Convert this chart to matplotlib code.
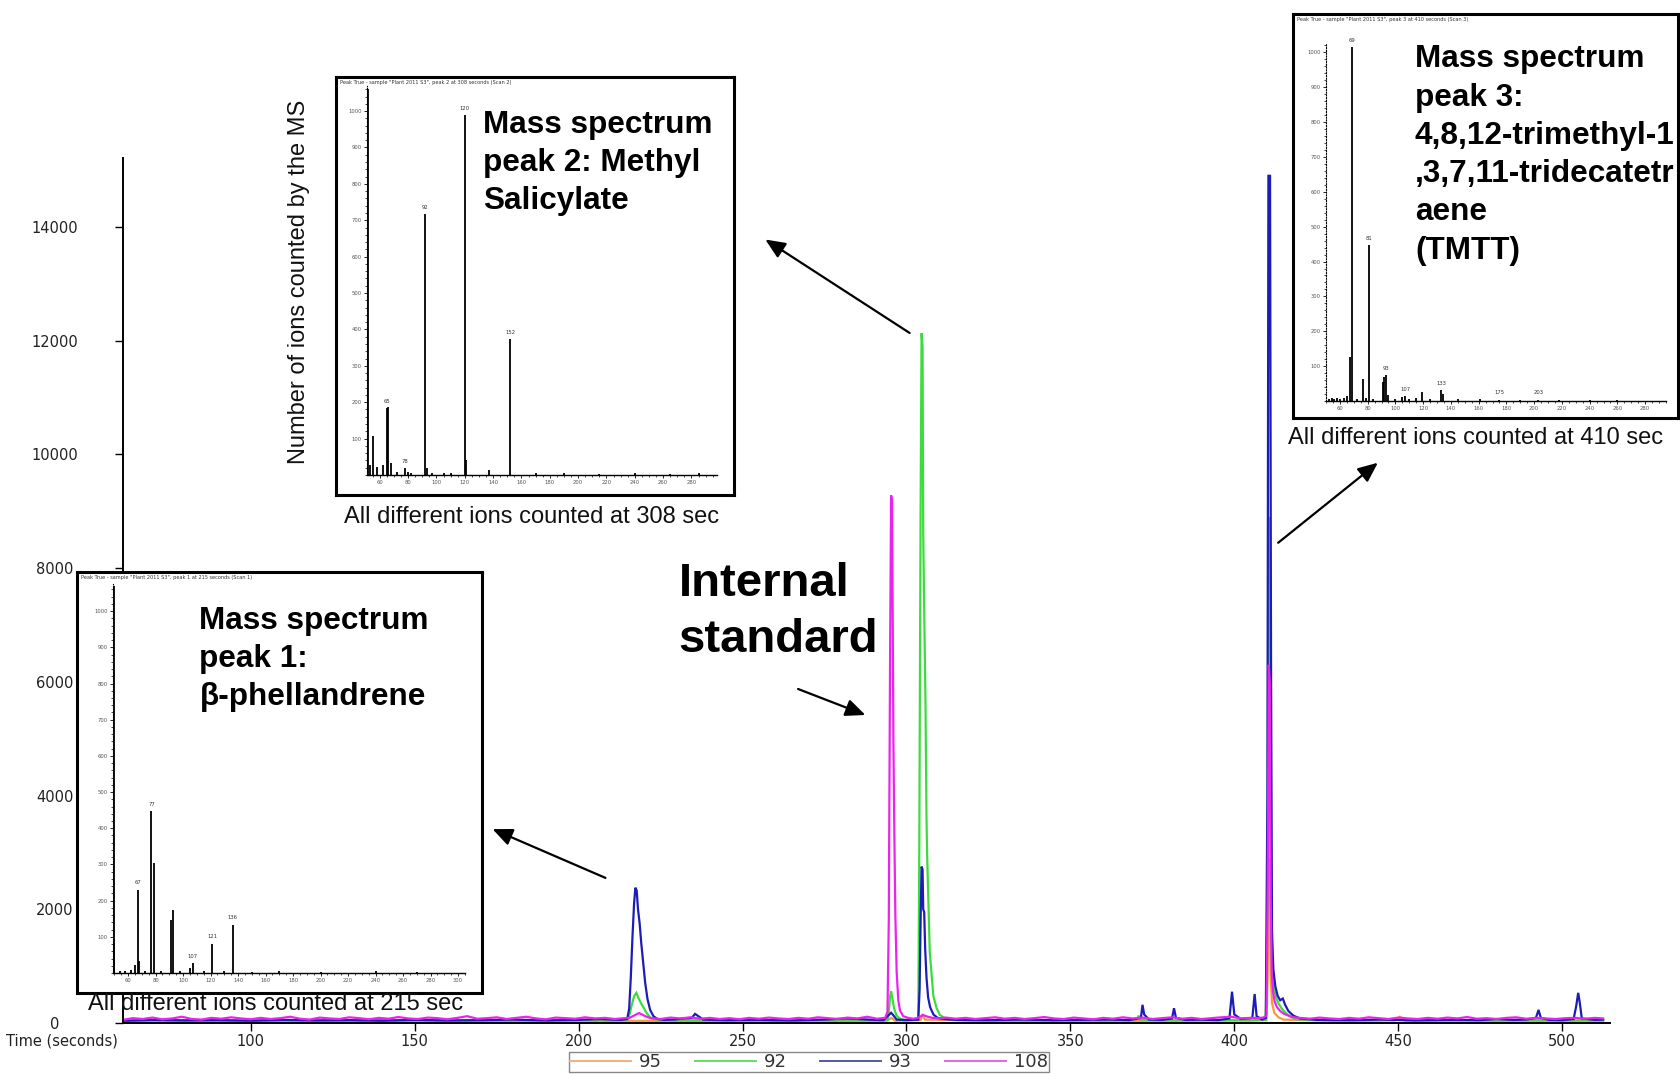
import matplotlib
matplotlib.use("Agg")
import matplotlib.pyplot as plt
from matplotlib.patches import FancyArrowPatch
from matplotlib.lines import Line2D
from matplotlib.ticker import MultipleLocator

W, H, DPI = 1681, 1074, 100

# ---------------- chromatogram: (retention time in s, ion counts) ----------------
ion_95 = [(61.5, 35), (100, 40), (150, 35), (200, 40), (250, 35), (294, 40), (295.4, 90),
          (296.5, 40), (304.3, 50), (304.9, 160), (305.6, 60), (330, 35), (380, 40), (409.8, 50),
          (410.2, 900), (410.5, 2900), (410.8, 2600), (411.1, 800), (411.5, 350), (412.2, 180),
          (413.5, 100), (415, 60), (430, 40), (449, 45), (450.5, 110), (452, 45), (480, 40),
          (512.5, 40)]

ion_92 = [(61.5, 40), (80, 50), (100, 40), (120, 45), (140, 50), (160, 40), (180, 45), (200, 50),
          (210, 45), (214.8, 55),
          (215.5, 150), (216.2, 320), (216.9, 470), (217.6, 530), (218.3, 430), (219.1, 340),
          (219.9, 260), (220.8, 170), (221.8, 100), (223, 65),
          (230, 50), (240, 45), (250, 50), (260, 40), (270, 50), (280, 45), (290, 50), (294.3, 60),
          (294.7, 250), (295.0, 480), (295.3, 560), (295.7, 430), (296.2, 260), (296.9, 140),
          (297.8, 80), (299, 60), (302, 55), (303.6, 60),
          (303.9, 3000), (304.3, 9000), (304.6, 12130), (304.9, 11900), (305.1, 8630), (305.3, 7700),
          (305.8, 5600), (306.1, 3620), (306.3, 2950), (307.1, 1250), (308.2, 470), (309.2, 260),
          (310.2, 140), (312.2, 70), (314, 55),
          (320, 45), (330, 50), (340, 45), (350, 50), (360, 45), (368, 55), (370.4, 70), (370.8, 130),
          (371.3, 60), (376, 50), (385, 45), (395, 50), (405, 45), (409.6, 60),
          (410.1, 2000), (410.4, 8900), (410.8, 8700), (411.1, 2600), (411.5, 950), (412, 620),
          (412.7, 450), (413.5, 340), (414.5, 250), (416, 160), (417.5, 100), (419, 60),
          (430, 50), (440, 45), (450, 55), (460, 45), (470, 50), (480, 45), (490, 50), (500, 45),
          (512.5, 50)]

ion_93 = [(61.5, 40), (70, 55), (80, 45), (90, 50), (100, 40), (110, 55), (120, 45), (130, 50),
          (140, 40), (150, 55), (160, 45), (170, 50), (180, 60), (190, 45), (200, 55), (207, 70),
          (210, 60), (213, 55), (214.8, 70),
          (215.4, 250), (215.9, 800), (216.4, 1500), (216.9, 2100), (217.3, 2380), (217.7, 2330),
          (218.1, 2000), (218.6, 1750), (219.1, 1400), (219.7, 1050), (220.3, 700), (221, 420),
          (221.8, 230), (222.8, 120), (224, 70),
          (226, 55), (229, 60), (232, 80), (234.5, 90), (235.5, 160), (236.5, 120), (238, 60),
          (245, 50), (255, 55), (265, 45), (275, 60), (282, 80), (285, 70), (290, 55), (293, 50),
          (295.3, 180), (295.8, 150), (297, 60), (300, 50), (303.6, 60),
          (304.0, 600), (304.3, 1800), (304.6, 2750), (304.9, 2700), (305.1, 2000), (305.4, 1950),
          (305.7, 1300), (306.1, 800), (306.6, 450), (307.2, 280), (308.2, 150), (309.5, 90),
          (311, 70),
          (315, 55), (325, 50), (335, 60), (345, 50), (355, 55), (362, 60), (368, 50), (371.5, 90),
          (372, 320), (372.5, 150), (374, 60), (378, 55), (381, 80), (381.6, 260), (382.2, 90),
          (385, 55), (390, 60), (395, 50), (398.5, 80), (399.3, 550), (400, 150), (402, 70),
          (405.5, 90), (406.2, 510), (406.8, 120), (408.5, 60), (409.6, 90),
          (410.1, 4000), (410.4, 14900), (410.9, 14900), (411.2, 6300), (411.5, 1600), (411.9, 950),
          (412.5, 650), (413.2, 480), (414, 400), (414.8, 430), (415.5, 320), (416.5, 210),
          (418, 130), (420, 80),
          (425, 55), (435, 50), (445, 60), (455, 45), (465, 55), (475, 50), (480, 70), (485, 55),
          (489, 60), (492, 90), (492.8, 230), (493.5, 90), (496, 55), (500, 50), (503.5, 70),
          (504.3, 300), (504.9, 530), (505.4, 350), (506, 80), (510, 55), (512.5, 60)]

ion_108 = [(61.5, 60), (64, 85), (67, 70), (70, 95), (73, 65), (76, 80), (79, 110), (82, 70),
           (85, 60), (88, 90), (91, 75), (94, 100), (97, 80), (100, 65), (103, 90), (106, 70),
           (109, 85), (112, 110), (115, 75), (118, 60), (121, 95), (124, 80), (127, 70), (130, 100),
           (133, 85), (136, 65), (139, 90), (142, 75), (145, 105), (148, 80), (151, 70), (154, 95),
           (157, 85), (160, 65), (163, 90), (166, 120), (169, 75), (172, 85), (175, 100), (178, 70),
           (181, 90), (184, 110), (187, 80), (190, 65), (193, 95), (196, 85), (199, 75), (202, 100),
           (205, 80), (208, 90), (211, 70), (214, 85),
           (215.5, 90), (216.5, 120), (217.5, 150), (218.4, 175), (219.3, 150), (220.5, 115),
           (222, 85),
           (225, 70), (228, 95), (231, 80), (234, 100), (237, 75), (240, 90), (243, 70), (246, 85),
           (249, 65), (252, 90), (255, 75), (258, 95), (261, 80), (264, 70), (267, 90), (270, 75),
           (273, 100), (276, 85), (279, 70), (282, 95), (285, 80), (288, 110), (291, 75),
           (293.5, 90),
           (294.2, 200), (294.6, 1800), (295.0, 6500), (295.3, 9280), (295.6, 9200), (295.8, 7000),
           (296.0, 5000), (296.3, 3300), (296.6, 1900), (297.0, 900), (297.5, 400), (298.0, 220),
           (299.0, 120),
           (300.5, 90), (302, 75), (303.5, 90), (305, 140), (306.5, 110), (308, 90), (310, 80),
           (312, 95), (315, 75), (318, 90), (321, 70), (324, 85), (327, 100), (330, 75), (333, 90),
           (336, 70), (339, 85), (342, 105), (345, 80), (348, 70), (351, 95), (354, 80), (357, 65),
           (360, 90), (363, 75), (366, 100), (369, 80), (372, 95), (375, 70), (378, 85), (381, 100),
           (384, 75), (387, 90), (390, 70), (393, 85), (396, 100), (399, 110), (402, 80), (405, 90),
           (407, 85), (408.8, 95), (409.8, 130),
           (410.2, 2500), (410.5, 6300), (410.8, 6000), (411.1, 2200), (411.4, 900), (411.8, 550),
           (412.3, 380), (413, 280), (414, 210), (415.2, 160), (416.5, 130), (418, 100),
           (420, 90), (423, 75), (426, 95), (429, 80), (432, 70), (435, 90), (438, 75), (441, 100),
           (444, 85), (447, 70), (450, 95), (453, 80), (456, 70), (459, 90), (462, 75), (465, 95),
           (468, 80), (471, 105), (474, 75), (477, 85), (480, 70), (483, 90), (486, 100), (489, 75),
           (492, 90), (495, 80), (498, 70), (501, 85), (504, 90), (507, 75), (510, 90), (512.5, 80)]

ion_names = ["95", "92", "93", "108"]
ion_traces = [ion_95, ion_92, ion_93, ion_108]
ion_colors = ["#f59a3a", "#3ddc3d", "#1c1cb8", "#ee22ee"]
legend_colors = ["#f3b07a", "#66dd66", "#5656b0", "#e466e4"]

x_ticks = [100, 150, 200, 250, 300, 350, 400, 450, 500]
y_ticks = [0, 2000, 4000, 6000, 8000, 10000, 12000, 14000]

# ---------------- mass spectra: (m/z, relative counts) ----------------
ms1_mz = [49.5, 50, 54, 58, 62, 65, 67, 68, 72, 77, 79, 84, 91, 93, 98, 105, 107, 115, 121, 130, 136,
          150, 170, 200, 240, 270]
ms1_int = [1070, 83, 6, 5, 8, 22, 230, 33, 6, 447, 304, 5, 147, 175, 6, 15, 28, 6, 81, 5, 134,
           4, 5, 4, 5, 4]
ms1_tags = {67: "67", 77: "77", 107: "107", 121: "121", 136: "136"}

ms2_mz = [51.5, 53, 55.5, 58, 62.5, 65, 66, 68, 72, 78, 80, 82, 92, 93, 97, 105, 110, 120, 121,
          137, 152, 170, 190, 215, 240, 265, 285]
ms2_int = [1060, 27, 107, 23, 27, 183, 188, 32, 8, 18, 8, 5, 717, 20, 6, 5, 6, 989, 40, 14, 373,
           5, 6, 4, 5, 4, 5]
ms2_tags = {65: "65", 78: "78", 92: "92", 120: "120", 152: "152"}

ms3_mz = [52, 54, 56, 58, 60, 63, 65, 67, 69, 72, 77, 79, 81, 84, 91, 92, 93, 95, 100, 105, 107, 110,
          115, 119, 125, 133, 134, 145, 161, 175, 190, 203, 218, 240, 260]
ms3_int = [6, 8, 5, 9, 7, 10, 15, 126, 1016, 6, 64, 8, 447, 6, 55, 69, 74, 16, 6, 12, 15, 7, 8, 26,
           6, 31, 21, 6, 5, 4, 4, 4, 3, 4, 3]
ms3_tags = {69: "69", 81: "81", 93: "93", 107: "107", 133: "133", 175: "175", 203: "203"}


def box(x0, y0, x1, y1):
    """Pixel box (top-left origin) -> figure-fraction rect."""
    return [x0 / W, 1 - y1 / H, (x1 - x0) / W, (y1 - y0) / H]


def fpt(x, y):
    return (x / W, 1 - y / H)


fig = plt.figure(figsize=(W / DPI, H / DPI), dpi=DPI, facecolor="white")
plt.rcParams["font.family"] = ["DejaVu Sans"]

# ---------------- main chromatogram ----------------
ax = fig.add_axes(box(123, 158, 1610, 1023), zorder=1)
for name, trace, col in zip(ion_names, ion_traces, ion_colors):
    t = [p[0] for p in trace]
    c = [p[1] for p in trace]
    ax.plot(t, c, color=col, lw=1.6, solid_joinstyle="miter")

ax.set_xlim(61, 514.6)
ax.set_ylim(0, 15213)
ax.set_xticks(x_ticks)
ax.set_yticks(y_ticks)
ax.set_yticklabels([str(v) for v in y_ticks])
for s in ("top", "right"):
    ax.spines[s].set_visible(False)
for s in ("left", "bottom"):
    ax.spines[s].set_linewidth(1.4)
ax.tick_params(axis="x", length=6, width=1, pad=2, labelsize=10.5, labelcolor="#222222")
ax.tick_params(axis="y", length=6, width=1, pad=43, labelsize=10.5, labelcolor="#222222")
for lab in ax.get_yticklabels():
    lab.set_horizontalalignment("center")

fig.text(62 / W, 1 - 1041 / H, "Time (seconds)", ha="center", va="center",
         fontsize=10.5, color="#222222")
fig.text(299 / W, 1 - 282 / H, "Number of ions counted by the MS", rotation=90,
         ha="center", va="center", fontsize=17, family="Liberation Sans", color="#111111")

handles = [Line2D([], [], color=c, lw=1.4) for c in legend_colors]
leg = fig.legend(handles, ion_names, loc="lower center", bbox_to_anchor=(809 / W, 2 / H),
                 ncol=4, fontsize=13, handlelength=3.4, handletextpad=0.45, columnspacing=1.8,
                 borderpad=0.05, borderaxespad=0, fancybox=False, framealpha=1,
                 edgecolor="#888888")
leg.get_frame().set_linewidth(1.0)
for txt in leg.get_texts():
    txt.set_color("#333333")


# ---------------- mass-spectrum insets ----------------
def spectrum_inset(outer, inner, xlim, ytop, mz, inten, tags, header):
    frame = fig.add_axes(box(*outer), zorder=5)
    frame.set_xticks([])
    frame.set_yticks([])
    frame.set_facecolor("white")
    for s in frame.spines.values():
        s.set_linewidth(2.2)
    frame.text(0.01, 0.992, header, transform=frame.transAxes, ha="left", va="top",
               fontsize=3.6, color="#333333")

    sp = fig.add_axes(box(*inner), zorder=6)
    sp.patch.set_alpha(0)
    sp.vlines(mz, 0, inten, color="black", lw=1.3)
    for m, lab in tags.items():
        val = max(v for x, v in zip(mz, inten) if round(x) == m)
        sp.text(m, val + 12, lab, ha="center", va="bottom", fontsize=3.8, color="#333333")
    sp.set_xlim(*xlim)
    sp.set_ylim(0, ytop)
    sp.spines["top"].set_visible(False)
    sp.spines["right"].set_visible(False)
    sp.spines["left"].set_linestyle((0, (1, 1.5)))
    sp.spines["left"].set_linewidth(0.8)
    sp.spines["bottom"].set_linewidth(1.0)
    sp.yaxis.set_major_locator(MultipleLocator(100))
    sp.yaxis.set_minor_locator(MultipleLocator(20))
    sp.xaxis.set_major_locator(MultipleLocator(20))
    sp.xaxis.set_minor_locator(MultipleLocator(5))
    sp.set_yticks([v for v in range(100, int(ytop) + 1, 100)])
    sp.tick_params(axis="both", which="major", length=2.2, width=0.6, pad=1.5,
                   labelsize=3.8, labelcolor="#555555")
    sp.tick_params(axis="both", which="minor", length=1.2, width=0.5)
    return sp


spectrum_inset((77, 572, 482, 993), (113, 584, 465, 973), (49, 305), 1075,
               ms1_mz, ms1_int, ms1_tags,
               'Peak True - sample "Plant 2011 S3", peak 1 at 215 seconds (Scan 1)')
spectrum_inset((336, 76.5, 734, 495), (367, 86, 717, 475), (51, 298), 1069,
               ms2_mz, ms2_int, ms2_tags,
               'Peak True - sample "Plant 2011 S3", peak 2 at 308 seconds (Scan 2)')
spectrum_inset((1293, 14, 1678, 418), (1326, 44, 1666, 401), (50, 295), 1024,
               ms3_mz, ms3_int, ms3_tags,
               'Peak True - sample "Plant 2011 S3", peak 3 at 410 seconds (Scan 3)')

# ---------------- captions and labels ----------------
cap_kw = dict(ha="center", va="center", fontsize=17, family="Liberation Sans",
              color="#111111", zorder=10)
fig.text(*fpt(276, 1004), "All different ions counted at 215 sec", **cap_kw)
fig.text(*fpt(532, 517), "All different ions counted at 308 sec", **cap_kw)
fig.text(*fpt(1476, 438), "All different ions counted at 410 sec", **cap_kw)

bold_kw = dict(ha="left", va="center", fontsize=22.7, family="Liberation Sans",
               weight="bold", color="black", zorder=10, linespacing=1.36)
fig.text(*fpt(483.5, 163), "Mass spectrum\npeak 2: Methyl\nSalicylate", **bold_kw)
fig.text(*fpt(1415, 155),
         "Mass spectrum\npeak 3:\n4,8,12-trimethyl-1\n,3,7,11-tridecatetr\naene\n(TMTT)",
         **bold_kw)
fig.text(*fpt(199.4, 659), "Mass spectrum\npeak 1:\n\u03b2-phellandrene", **bold_kw)
fig.text(*fpt(678.6, 612), "Internal\nstandard", ha="left", va="center", fontsize=34,
         family="Liberation Sans", weight="bold", color="black", zorder=10, linespacing=1.35)

# ---------------- arrows ----------------
arrows = [((608, 879), (490, 828)),
          ((912, 334.5), (763, 238)),
          ((1276, 544.5), (1380, 461)),
          ((795.5, 688), (868, 716))]
for tail, head in arrows:
    fig.add_artist(FancyArrowPatch(fpt(*tail), fpt(*head), transform=fig.transFigure,
                                   arrowstyle="-|>,head_length=0.8,head_width=0.35",
                                   mutation_scale=15, lw=1.6, color="black", zorder=12))

fig.savefig("out.png", dpi=DPI, facecolor="white")
